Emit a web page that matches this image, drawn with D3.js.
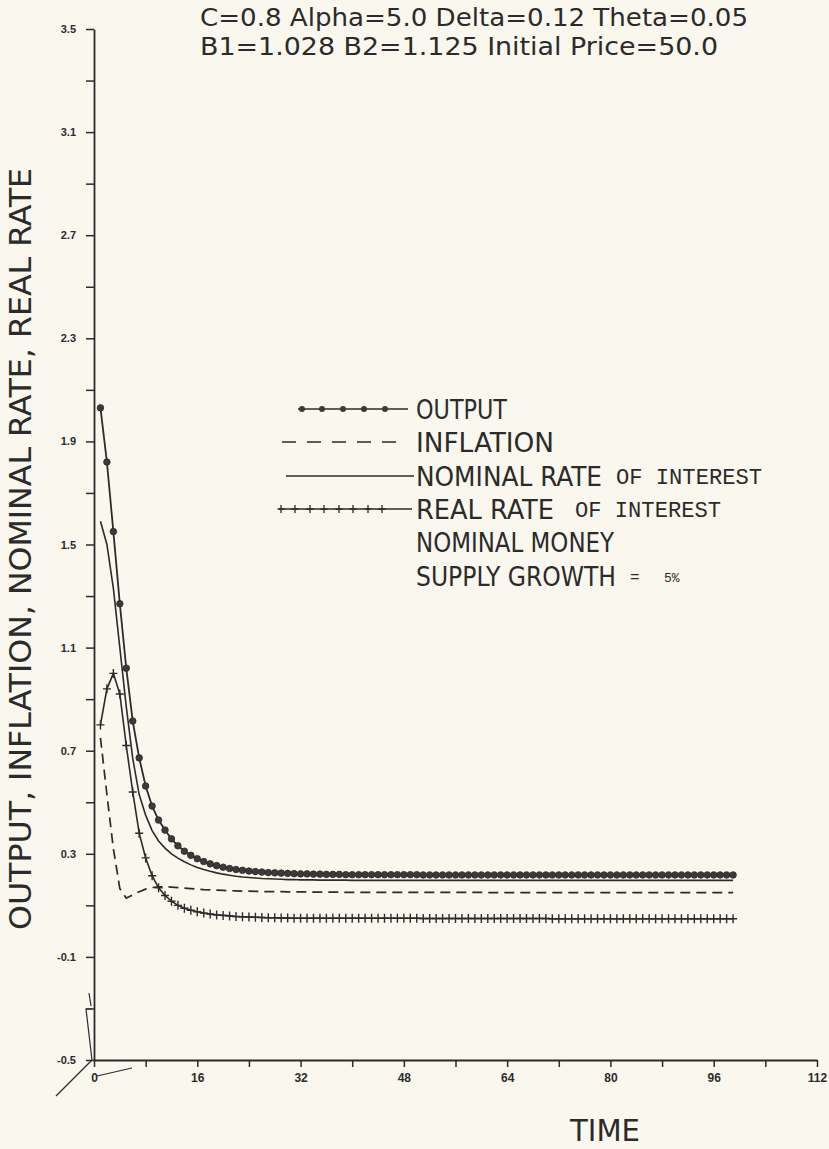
<!DOCTYPE html>
<meta charset="utf-8">
<script src="https://d3js.org/d3.v7.min.js"></script>
<style>
  body { margin: 0; background: #f9f7ee; }
</style>
<div id="chart"></div>
<script>

// ---- data (t = 1 .. 99) ----
var time = d3.range(1, 100);

var output = [
  2.03, 1.82, 1.55, 1.27, 1.02, 0.815, 0.672, 0.563, 0.485, 0.431,
  0.392, 0.358, 0.331, 0.310, 0.294, 0.281, 0.270, 0.261, 0.254, 0.248,
  0.243, 0.239, 0.236, 0.233, 0.231, 0.229, 0.227, 0.226, 0.225, 0.224,
  0.223, 0.222, 0.222, 0.221, 0.221, 0.220, 0.220, 0.220, 0.219, 0.219,
  0.219, 0.219, 0.219, 0.219, 0.219, 0.219, 0.219, 0.219, 0.219, 0.219,
  0.218, 0.218, 0.218, 0.218, 0.218, 0.218, 0.218, 0.218, 0.218, 0.218,
  0.218, 0.218, 0.218, 0.218, 0.218, 0.218, 0.218, 0.218, 0.218, 0.218,
  0.218, 0.218, 0.218, 0.218, 0.218, 0.218, 0.218, 0.218, 0.218, 0.218,
  0.218, 0.218, 0.218, 0.218, 0.218, 0.218, 0.218, 0.218, 0.218, 0.218,
  0.218, 0.218, 0.218, 0.218, 0.218, 0.218, 0.218, 0.218, 0.218
];

var inflation = [
  0.75, 0.53, 0.32, 0.165, 0.128, 0.140, 0.153, 0.163, 0.169, 0.172,
  0.172, 0.171, 0.169, 0.167, 0.165, 0.163, 0.161, 0.160, 0.159, 0.158,
  0.157, 0.156, 0.155, 0.155, 0.154, 0.154, 0.153, 0.153, 0.153, 0.152,
  0.152, 0.152, 0.152, 0.151, 0.151, 0.151, 0.151, 0.151, 0.150, 0.150,
  0.150, 0.150, 0.150, 0.150, 0.150, 0.150, 0.150, 0.150, 0.150, 0.150,
  0.150, 0.150, 0.150, 0.150, 0.150, 0.150, 0.150, 0.150, 0.150, 0.150,
  0.149, 0.149, 0.149, 0.149, 0.149, 0.149, 0.149, 0.149, 0.149, 0.149,
  0.149, 0.149, 0.149, 0.149, 0.149, 0.149, 0.149, 0.149, 0.149, 0.149,
  0.149, 0.149, 0.149, 0.149, 0.149, 0.149, 0.149, 0.149, 0.149, 0.149,
  0.149, 0.149, 0.149, 0.149, 0.149, 0.149, 0.149, 0.149, 0.149
];

var nominal = [
  1.59, 1.50, 1.33, 1.10, 0.87, 0.67, 0.53, 0.45, 0.39, 0.35,
  0.322, 0.300, 0.283, 0.269, 0.257, 0.247, 0.239, 0.232, 0.226, 0.221,
  0.217, 0.213, 0.210, 0.208, 0.206, 0.204, 0.203, 0.202, 0.201, 0.200,
  0.200, 0.199, 0.199, 0.199, 0.198, 0.198, 0.198, 0.198, 0.198, 0.197,
  0.197, 0.197, 0.197, 0.197, 0.197, 0.197, 0.197, 0.197, 0.197, 0.197,
  0.197, 0.197, 0.197, 0.197, 0.197, 0.197, 0.197, 0.197, 0.197, 0.197,
  0.197, 0.197, 0.197, 0.197, 0.197, 0.197, 0.197, 0.197, 0.197, 0.197,
  0.197, 0.197, 0.197, 0.197, 0.197, 0.197, 0.197, 0.197, 0.197, 0.197,
  0.197, 0.197, 0.197, 0.197, 0.197, 0.197, 0.197, 0.197, 0.197, 0.197,
  0.197, 0.197, 0.197, 0.197, 0.197, 0.197, 0.197, 0.197, 0.197
];

var real = [
  0.80, 0.94, 1.00, 0.92, 0.72, 0.54, 0.38, 0.284, 0.215, 0.168,
  0.138, 0.116, 0.100, 0.089, 0.081, 0.075, 0.070, 0.066, 0.063, 0.061,
  0.059, 0.057, 0.056, 0.055, 0.054, 0.053, 0.052, 0.052, 0.051, 0.051,
  0.050, 0.050, 0.050, 0.050, 0.050, 0.050, 0.050, 0.050, 0.050, 0.050,
  0.050, 0.050, 0.050, 0.050, 0.050, 0.050, 0.050, 0.050, 0.050, 0.050,
  0.049, 0.049, 0.049, 0.049, 0.049, 0.049, 0.049, 0.049, 0.049, 0.049,
  0.049, 0.049, 0.049, 0.049, 0.049, 0.049, 0.049, 0.049, 0.049, 0.049,
  0.048, 0.048, 0.048, 0.048, 0.048, 0.048, 0.048, 0.048, 0.048, 0.048,
  0.048, 0.048, 0.048, 0.048, 0.048, 0.048, 0.048, 0.048, 0.048, 0.048,
  0.048, 0.048, 0.048, 0.048, 0.048, 0.048, 0.048, 0.048, 0.048
];

// axis ticks
var yMajor = [-0.5, -0.1, 0.3, 0.7, 1.1, 1.5, 1.9, 2.3, 2.7, 3.1, 3.5];
var yLabels = ["-0.5", "-0.1", "0.3", "0.7", "1.1", "1.5", "1.9", "2.3", "2.7", "3.1", "3.5"];
var xMajor = [0, 16, 32, 48, 64, 80, 96, 112];
var xLabels = ["0", "16", "32", "48", "64", "80", "96", "112"];

var titleLines = ["C=0.8 Alpha=5.0 Delta=0.12 Theta=0.05",
                  "B1=1.028 B2=1.125 Initial Price=50.0"];
var legendNames = ["OUTPUT", "INFLATION", "NOMINAL RATE", "REAL RATE", "NOMINAL MONEY", "SUPPLY GROWTH"];

// ---- drawing ----
var W = 829, H = 1149;
var ink = "#2b2b2b";
var plotFont = "'DejaVu Sans Condensed','DejaVu Sans',sans-serif";
var typeFont = "'Liberation Mono','Courier New',monospace";

var svg = d3.select("#chart").append("svg")
    .attr("width", W).attr("height", H)
    .style("background", "#f9f7ee");

var x = d3.scaleLinear().domain([0, 112]).range([94, 817]);
var y = d3.scaleLinear().domain([-0.5, 3.5]).range([1060, 29]);

// minor ticks halfway between majors
var yTicks = [];
yMajor.forEach(function(v, i) {
  yTicks.push(v);
  if (i < yMajor.length - 1) yTicks.push((v + yMajor[i + 1]) / 2);
});
var xTicks = [];
xMajor.forEach(function(v, i) {
  xTicks.push(v);
  if (i < xMajor.length - 1) xTicks.push((v + xMajor[i + 1]) / 2);
});

var gy = svg.append("g")
    .attr("transform", "translate(" + x(0) + ",0)")
    .call(d3.axisLeft(y).tickValues(yTicks).tickSize(8).tickSizeOuter(0).tickPadding(10)
      .tickFormat(function(d) {
        var i = yMajor.indexOf(d);
        return i >= 0 ? yLabels[i] : "";
      }));

var gx = svg.append("g")
    .attr("transform", "translate(0," + y(-0.5) + ")")
    .call(d3.axisBottom(x).tickValues(xTicks).tickSize(7).tickSizeOuter(0).tickPadding(6)
      .tickFormat(function(d) {
        var i = xMajor.indexOf(d);
        return i >= 0 ? xLabels[i] : "";
      }));

[gx, gy].forEach(function(g) {
  g.select(".domain").attr("stroke", ink).attr("stroke-width", 1.8);
  g.selectAll(".tick line").attr("stroke", ink).attr("stroke-width", 1.5);
  g.selectAll(".tick text").attr("fill", ink)
    .style("font-family", "'Liberation Sans',Arial,sans-serif")
    .style("font-weight", "bold");
});
gy.selectAll(".tick text").style("font-size", "11px");
gx.selectAll(".tick text").style("font-size", "12px");

// pen scribbles near the origin, as on the plot
var scrib = svg.append("g").attr("fill", "none").attr("stroke", ink).attr("stroke-width", 1.2);
scrib.append("path").attr("d", "M92,1009H86L92,1060");
scrib.append("path").attr("d", "M89,993L91,1006");
scrib.append("path").attr("d", "M92,1060L56,1096");
scrib.append("path").attr("d", "M97,1076L132,1068");

// ---- series ----
var line = d3.line().x(function(d, i) { return x(time[i]); }).y(function(d) { return y(d); });

svg.append("path").datum(inflation)
    .attr("d", line).attr("fill", "none").attr("stroke", ink)
    .attr("stroke-width", 1.7).attr("stroke-dasharray", "10,6");

svg.append("path").datum(nominal)
    .attr("d", line).attr("fill", "none").attr("stroke", ink).attr("stroke-width", 1.6);

svg.append("path").datum(real)
    .attr("d", line).attr("fill", "none").attr("stroke", ink).attr("stroke-width", 1.6);

svg.append("g").selectAll("path")
  .data(real).enter().append("path")
    .attr("d", "M-4,0H4M0,-4.5V4.5")
    .attr("transform", function(d, i) { return "translate(" + x(time[i]) + "," + y(d) + ")"; })
    .attr("stroke", ink).attr("stroke-width", 1.4);

svg.append("path").datum(output)
    .attr("d", line).attr("fill", "none").attr("stroke", ink).attr("stroke-width", 1.8);

svg.append("g").selectAll("circle")
  .data(output).enter().append("circle")
    .attr("cx", function(d, i) { return x(time[i]); })
    .attr("cy", function(d) { return y(d); })
    .attr("r", 3.3)
    .attr("fill", "#3a3a3a").attr("stroke", ink).attr("stroke-width", 0.8);

// ---- title block ----
var titleW = [548, 518];
svg.selectAll(".title").data(titleLines).enter().append("text")
    .attr("class", "title")
    .attr("x", 200).attr("y", function(d, i) { return 26 + i * 29; })
    .attr("fill", ink)
    .attr("textLength", function(d, i) { return titleW[i]; })
    .attr("lengthAdjust", "spacingAndGlyphs")
    .style("font-family", plotFont).style("font-size", "25px")
    .text(function(d) { return d; });

// ---- axis titles ----
svg.append("text")
    .attr("transform", "translate(31,549) rotate(-90)")
    .attr("text-anchor", "middle")
    .attr("fill", ink)
    .attr("textLength", 762).attr("lengthAdjust", "spacingAndGlyphs")
    .style("font-family", plotFont).style("font-size", "30px")
    .text("OUTPUT, INFLATION, NOMINAL RATE, REAL RATE");

svg.append("text")
    .attr("x", 605).attr("y", 1141)
    .attr("text-anchor", "middle")
    .attr("fill", ink)
    .attr("textLength", 70).attr("lengthAdjust", "spacingAndGlyphs")
    .style("font-family", plotFont).style("font-size", "30px")
    .text("TIME");

// ---- legend ----
var legY = [409, 442, 476, 509, 542, 576];
var legX = 416;
var legW = [91, 138, 186, 138, 198, 200];

var leg = svg.append("g");
leg.selectAll("text.name").data(legendNames).enter().append("text")
    .attr("class", "name")
    .attr("x", legX).attr("y", function(d, i) { return legY[i] + 10; })
    .attr("fill", ink)
    .attr("textLength", function(d, i) { return legW[i]; })
    .attr("lengthAdjust", "spacingAndGlyphs")
    .style("font-family", plotFont).style("font-size", "27px")
    .text(function(d) { return d; });

// "OF INTEREST" in typewriter face after rows 3 and 4
leg.selectAll("text.of").data([2, 3]).enter().append("text")
    .attr("class", "of")
    .attr("x", function(i) { return legX + legW[i] + (i == 2 ? 14 : 21); })
    .attr("y", function(i) { return legY[i] + 8; })
    .attr("fill", ink)
    .attr("textLength", 146).attr("lengthAdjust", "spacingAndGlyphs")
    .style("font-family", typeFont).style("font-size", "22px")
    .text("OF INTEREST");

leg.append("text")
    .attr("x", legX + legW[5] + 14).attr("y", legY[5] + 6)
    .attr("fill", ink)
    .style("font-family", typeFont).style("font-size", "16px")
    .text("=");
leg.append("text")
    .attr("x", legX + legW[5] + 48).attr("y", legY[5] + 6)
    .attr("fill", ink)
    .style("font-family", typeFont).style("font-size", "13px")
    .text("5%");

// legend samples
leg.append("line").attr("x1", 298).attr("x2", 408).attr("y1", legY[0]).attr("y2", legY[0])
    .attr("stroke", ink).attr("stroke-width", 1.6);
leg.selectAll("circle").data([302, 322, 343, 364, 385]).enter().append("circle")
    .attr("cx", function(d) { return d; }).attr("cy", legY[0]).attr("r", 3)
    .attr("fill", "#3a3a3a");

leg.append("line").attr("x1", 282).attr("x2", 398).attr("y1", legY[1]).attr("y2", legY[1])
    .attr("stroke", ink).attr("stroke-width", 1.6).attr("stroke-dasharray", "14,11");

leg.append("line").attr("x1", 286).attr("x2", 414).attr("y1", legY[2]).attr("y2", legY[2])
    .attr("stroke", ink).attr("stroke-width", 1.5);

leg.append("line").attr("x1", 279).attr("x2", 412).attr("y1", legY[3]).attr("y2", legY[3])
    .attr("stroke", ink).attr("stroke-width", 1.5);
leg.selectAll("path.plus").data([281, 295, 310, 324, 339, 353, 368, 382]).enter().append("path")
    .attr("class", "plus")
    .attr("d", "M-3.5,0H3.5M0,-4V4")
    .attr("transform", function(d) { return "translate(" + d + "," + legY[3] + ")"; })
    .attr("stroke", ink).attr("stroke-width", 1.3);

</script>
